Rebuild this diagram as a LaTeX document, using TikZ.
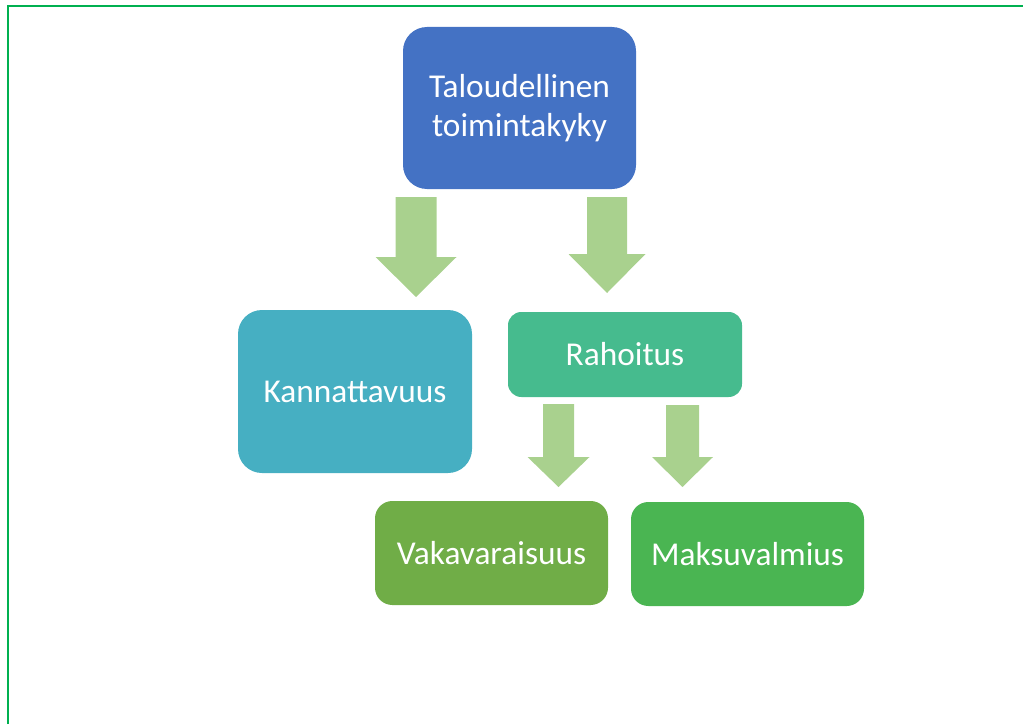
\documentclass[tikz,border=0pt]{standalone}
\usepackage{fontspec}
\setmainfont{Carlito}
\usetikzlibrary{positioning}
\definecolor{framegreen}{HTML}{00B050}
\definecolor{topblue}{HTML}{4472C4}
\definecolor{kannteal}{HTML}{46AFC2}
\definecolor{rahgreen}{HTML}{46BB8E}
\definecolor{vakagreen}{HTML}{70AD47}
\definecolor{maksgreen}{HTML}{4AB552}
\definecolor{arrowgreen}{HTML}{A9D18E}

% block arrow pointing down: x, top, tip, shaft width, head width, head length
\newcommand{\downblock}[6]{%
  \fill[arrowgreen] (#1-#4/2,#2) -- (#1+#4/2,#2) -- (#1+#4/2,#3-#6)
    -- (#1+#5/2,#3-#6) -- (#1,#3) -- (#1-#5/2,#3-#6) -- (#1-#4/2,#3-#6) -- cycle;}

\begin{document}
\begin{tikzpicture}[x=0.75pt, y=-0.75pt,
    box/.style={rectangle, 
      rounded corners=#1, 
      text=white, 
      align=center, 
      inner sep=0pt, 
      font=\fontsize{25}{29}\selectfont}]
  \useasboundingbox (0,0) rectangle (1023,724);

  % FRAME

  \draw[framegreen, line width=1.6pt] (8,724) -- (8,6) -- (1023,6);

  % BOXES

  \node [box=18pt, fill=topblue, 
    minimum width=174.75pt, 
    minimum height=121.5pt] (talous) at (519.5,108) 
    {Taloudellinen\\toimintakyky};

  \node [box=18pt, fill=kannteal, 
    minimum width=175.5pt, 
    minimum height=122.25pt] (kannattavuus) at (355,391.5) 
    {Kannattavuus};

  \node [box=10pt, fill=rahgreen, 
    minimum width=175.5pt, 
    minimum height=63.75pt] (rahoitus) at (625,354.5) 
    {Rahoitus};

  \node [box=13pt, fill=vakagreen, 
    minimum width=174.75pt, 
    minimum height=78pt] (vakavaraisuus) at (491.5,553) 
    {Vakavaraisuus};

  \node [box=13pt, fill=maksgreen, 
    minimum width=174.75pt, 
    minimum height=78pt] (maksuvalmius) at (747.5,554) 
    {Maksuvalmius};

  % ARROWS

  \downblock{416}{197}{297}{41}{81}{40}
  \downblock{607}{197}{293}{40}{77}{39}
  \downblock{558.5}{404}{487}{31}{62}{30}
  \downblock{682.5}{405}{487}{33}{61}{30}

\end{tikzpicture}
\end{document}
